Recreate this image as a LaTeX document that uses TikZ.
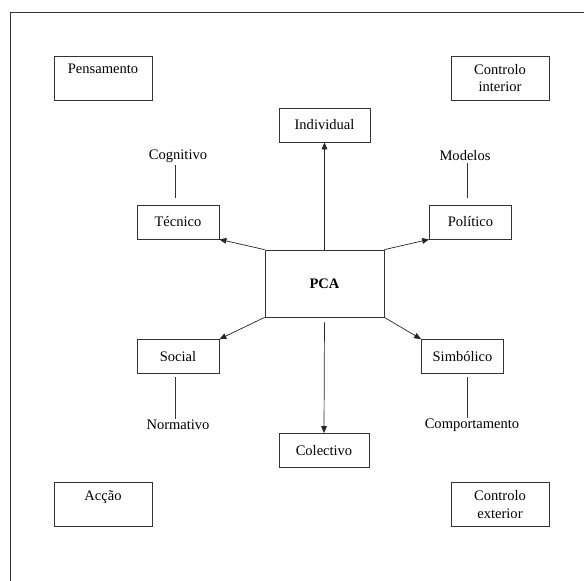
\documentclass[tikz,border=0pt]{standalone}
\usepackage{fontspec}
\setmainfont{Liberation Serif}
\usetikzlibrary{arrows.meta}

\begin{document}
\begin{tikzpicture}[x=0.03cm,y=-0.03cm,
    every node/.style={font=\fontsize{12.4}{15.3}\selectfont},
    caixa/.style={draw=black!80,line width=0.6pt,minimum width=2.46cm,minimum height=1.02cm,inner sep=0pt},
    canto/.style={draw=black!80,line width=0.6pt,minimum width=2.94cm,minimum height=1.32cm,inner sep=0pt,align=center},
    seta/.style={draw=black!85,line width=0.6pt,-{Triangle[length=2.1mm,width=1.7mm]}},
    liga/.style={draw=black!80,line width=0.6pt}]
    \useasboundingbox (0,0) rectangle (584,580);
    \clip (0,0) rectangle (584,580);
    % moldura
    \draw[black!80,line width=0.6pt] (10,12) rectangle (600,600);

    % centro
    \node[caixa,minimum width=3.57cm,minimum height=2.01cm] (pca) at (324.5,283.5) {\textbf{PCA}};

    % dimensoes
    \node[caixa,minimum width=2.73cm] (ind) at (324.5,125) {Individual};
    \node[caixa,minimum width=2.7cm] (col) at (324,450.5) {Colectivo};
    \node[caixa] (tec) at (178,222) {Técnico};
    \node[caixa] (pol) at (470.5,222) {Político};
    \node[caixa] (soc) at (178,356.5) {Social};
    \node[caixa] (sim) at (462.5,356.5) {Simbólico};

    % cantos
    \node[canto] (pen) at (103,78) {Pensamento\\\mbox{}};
    \node[canto] (cin) at (500,78) {Controlo\\interior};
    \node[canto] (acc) at (103,504.5) {Acção\\\mbox{}};
    \node[canto] (cex) at (500,504.5) {Controlo\\exterior};

    % rotulos
    \node (cog) at (178,156) {Cognitivo};
    \node (mod) at (465,156) {Modelos};
    \node (nor) at (178,425) {Normativo};
    \node (com) at (472,425) {Comportamento};

    % setas a partir do centro
    \draw[seta] (pca.north) -- (ind.south);
    \draw[seta,shorten <=0.15cm] (pca.south) -- (col.north);
    \draw[seta] (pca.north west) -- (tec.south east);
    \draw[seta] (pca.north east) -- (pol.south west);
    \draw[seta] (pca.south west) -- (soc.north east);
    \draw[seta] (pca.south east) -- (sim.north west);

    % ligacoes aos rotulos
    \coordinate (c1) at (175,198);
    \coordinate (c2) at (467,198);
    \coordinate (c3) at (175,377);
    \coordinate (c4) at (467,377);
    \draw[liga] (cog.south -| c1) ++(0,-2) -- (c1);
    \draw[liga] (mod.south -| c2) ++(0,-2) -- (c2);
    \draw[liga] (c3) -- ([yshift=-0.1cm]nor.north -| c3);
    \draw[liga] (c4) -- ([yshift=-0.1cm]com.north -| c4);
\end{tikzpicture}
\end{document}
